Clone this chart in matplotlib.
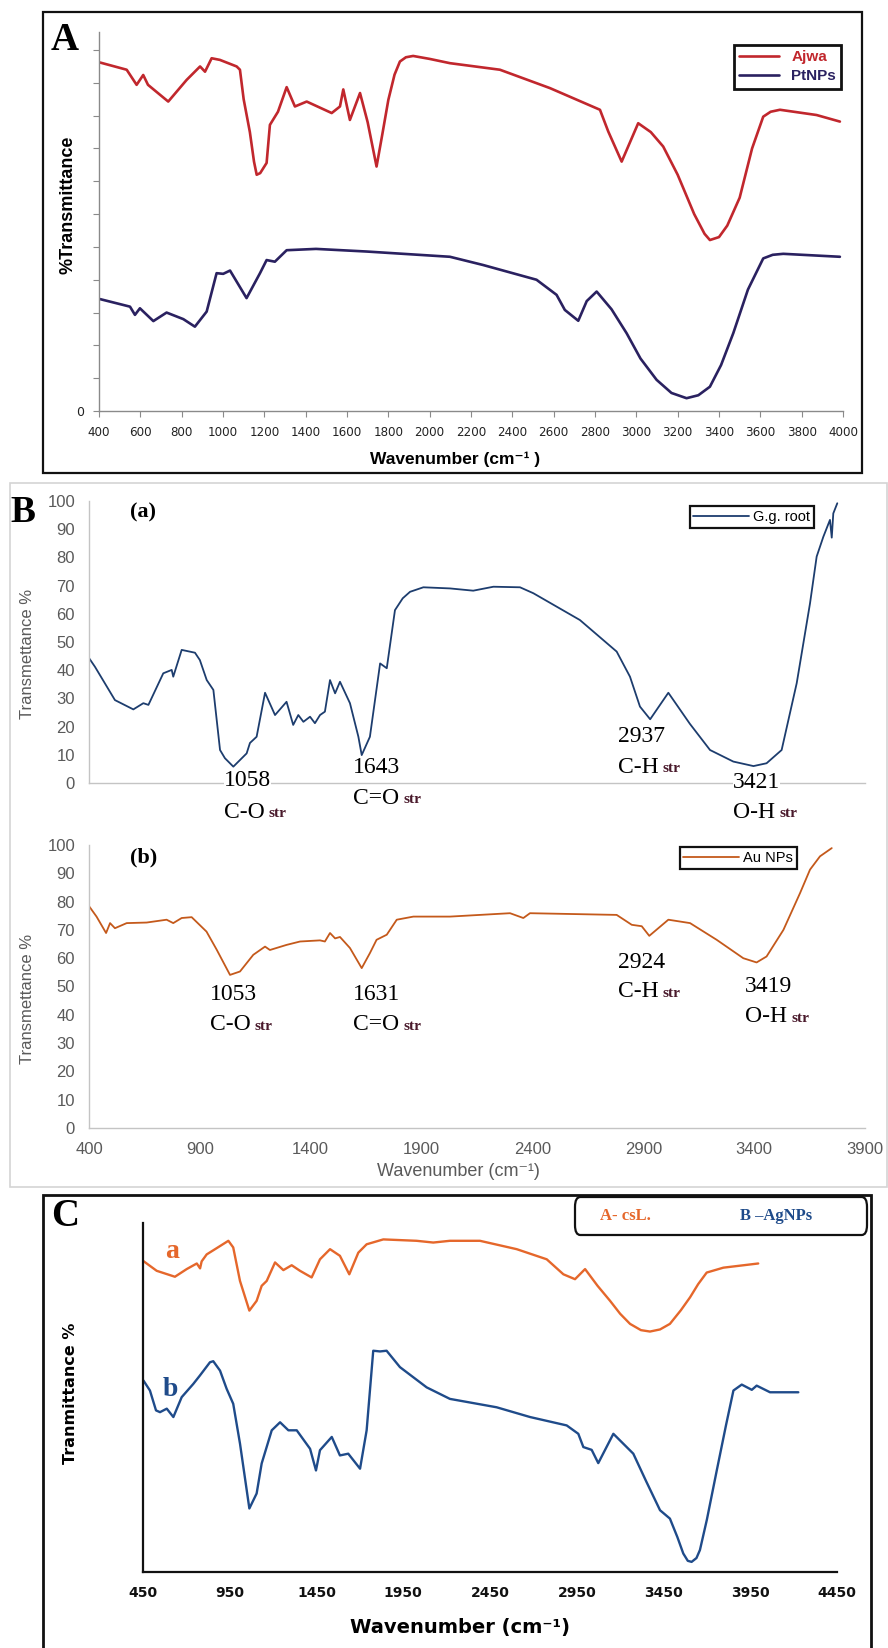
"""Three stacked FTIR spectra panels (A, B, C) redrawn from a composite figure."""

import matplotlib

matplotlib.use("Agg")
import matplotlib.pyplot as plt
from matplotlib.patches import FancyBboxPatch, Rectangle

W, H = 888, 1648
SANS = ["Liberation Sans", "DejaVu Sans"]
SERIF = ["Liberation Serif", "DejaVu Serif"]

# ---- panel A: Ajwa extract vs PtNPs ----
ajwa_wn = [405, 534, 582, 614, 637, 735, 824, 889, 913, 945, 985, 1066, 1082, 1100, 1130,
           1150, 1163, 1180, 1211, 1227, 1266, 1308, 1348, 1405, 1526, 1566, 1582, 1614,
           1663, 1700, 1743, 1770, 1800, 1830, 1856, 1885, 1920, 2000, 2098, 2340, 2582,
           2824, 2864, 2929, 3009, 3070, 3130, 3200, 3280, 3330, 3356, 3400, 3440, 3500,
           3560, 3614, 3650, 3695, 3872, 3985]
ajwa_t = [106.2, 104.0, 99.4, 102.4, 99.4, 94.3, 100.9, 105.0, 103.4, 107.5, 107.0, 105.0,
          104.0, 95.0, 85.0, 76.0, 72.0, 72.5, 75.6, 87.2, 91.2, 98.7, 92.8, 94.3, 90.8,
          92.8, 98.0, 88.7, 96.9, 88.0, 74.5, 84.0, 94.8, 102.5, 106.5, 107.8, 108.2,
          107.3, 106.0, 104.0, 98.4, 91.8, 85.2, 76.0, 87.7, 85.0, 80.6, 72.0, 60.0, 54.0,
          52.1, 53.0, 56.5, 65.0, 80.0, 89.7, 91.2, 91.8, 90.2, 88.2]
pt_wn = [405, 550, 574, 598, 663, 727, 808, 864, 921, 969, 1001, 1034, 1114, 1179, 1211,
         1251, 1308, 1450, 1695, 2098, 2258, 2517, 2614, 2654, 2719, 2760, 2808, 2880,
         2953, 3020, 3098, 3170, 3243, 3300, 3356, 3410, 3469, 3540, 3614, 3660, 3711,
         3985]
pt_t = [34.1, 31.8, 29.3, 31.3, 27.4, 30.0, 28.0, 25.7, 30.3, 42.0, 41.8, 42.8, 34.4, 42.0,
        46.0, 45.5, 49.0, 49.4, 48.6, 47.0, 44.5, 40.0, 35.4, 30.8, 27.5, 33.5, 36.4, 31.0,
        23.7, 16.0, 9.5, 5.5, 3.9, 4.8, 7.4, 14.0, 23.7, 37.0, 46.5, 47.6, 47.9, 47.0]
a_ticks = list(range(400, 4001, 200))

# ---- panel B: G. glabra root vs Au NPs ----
gg_wn = [401, 427, 517, 600, 645, 668, 735, 773, 780, 818, 878, 900, 931, 961, 991, 1013,
         1051, 1111, 1126, 1156, 1194, 1239, 1291, 1321, 1344, 1367, 1397, 1419, 1442,
         1464, 1487, 1510, 1532, 1577, 1615, 1630, 1667, 1713, 1743, 1780, 1815, 1848,
         1908, 2028, 2133, 2224, 2344, 2404, 2614, 2780, 2840, 2885, 2931, 3013, 3110,
         3201, 3306, 3397, 3456, 3524, 3592, 3652, 3682, 3712, 3742, 3750, 3757, 3775]
gg_t = [44.2, 41.2, 29.4, 26.1, 28.3, 27.7, 38.9, 40.1, 37.7, 47.2, 46.2, 43.6, 36.5, 33.0,
        11.7, 8.8, 5.8, 10.5, 14.2, 16.4, 32.0, 24.1, 28.8, 20.6, 24.1, 21.7, 23.5, 21.2,
        24.1, 25.3, 36.5, 31.8, 35.9, 28.3, 16.4, 9.9, 16.4, 42.4, 40.7, 61.3, 65.5, 67.8,
        69.4, 69.0, 68.2, 69.6, 69.4, 67.3, 57.8, 46.6, 37.7, 27.1, 22.6, 32.0, 21.0,
        11.7, 7.6, 6.0, 7.0, 11.7, 35.4, 63.7, 80.3, 87.3, 93.3, 87.0, 95.6, 99.2]
au_wn = [401, 434, 477, 495, 517, 570, 660, 750, 780, 818, 863, 930, 976, 1036, 1081, 1141,
         1194, 1216, 1291, 1352, 1442, 1464, 1487, 1510, 1532, 1577, 1630, 1667, 1697,
         1743, 1788, 1863, 2028, 2299, 2359, 2389, 2780, 2848, 2893, 2927, 3013, 3111,
         3231, 3351, 3411, 3456, 3532, 3607, 3652, 3697, 3750]
au_t = [78.3, 74.7, 68.9, 72.4, 70.6, 72.4, 72.6, 73.6, 72.4, 74.2, 74.5, 69.4, 63.0, 54.1,
        55.3, 61.2, 64.1, 62.9, 64.7, 65.9, 66.3, 65.9, 68.9, 67.0, 67.5, 63.6, 56.5, 61.8,
        66.5, 68.3, 73.6, 74.7, 74.7, 75.9, 74.2, 75.9, 75.3, 71.8, 71.3, 67.9, 73.6, 72.4,
        66.5, 60.0, 58.5, 60.6, 70.0, 83.0, 91.3, 96.0, 98.9]
b_ticks = list(range(400, 3901, 500))
b_yticks = list(range(0, 101, 10))

# peak labels for panel B: (number, bond, x px, number y px, bond y px)
peaks_gg = [("1058", "C-O", 224, 781, 812), ("1643", "C=O", 353, 767, 798),
            ("2937", "C-H", 618, 737, 767), ("3421", "O-H", 733, 782, 812)]
peaks_au = [("1053", "C-O", 210, 995, 1025), ("1631", "C=O", 353, 995, 1025),
            ("2924", "C-H", 618, 962, 992), ("3419", "O-H", 745, 987, 1017)]

# ---- panel C: csL extract vs AgNPs ----
csl_wn = [452, 529, 634, 702, 760, 779, 788, 817, 875, 942, 970, 1009, 1063, 1105, 1134,
          1163, 1211, 1259, 1307, 1355, 1422, 1470, 1528, 1585, 1639, 1691, 1739, 1835,
          2027, 2123, 2219, 2392, 2604, 2777, 2873, 2940, 2998, 3070, 3142, 3200, 3257,
          3320, 3372, 3430, 3487, 3550, 3603, 3650, 3699, 3795, 3996]
csl_t = [89.1, 86.3, 84.6, 86.8, 88.4, 87.0, 89.0, 91.0, 92.8, 94.9, 93.0, 83.4, 74.9, 77.7,
         82.0, 83.4, 88.7, 86.5, 87.9, 86.3, 84.4, 89.6, 92.5, 90.6, 85.3, 91.5, 93.9, 95.3,
         94.9, 94.4, 94.9, 94.9, 92.5, 89.6, 85.3, 83.9, 86.8, 82.0, 77.7, 74.0, 71.1,
         69.3, 68.9, 69.5, 71.1, 75.0, 78.7, 82.5, 85.8, 87.2, 88.4]
ag_wn = [452, 490, 525, 548, 587, 625, 673, 740, 778, 836, 855, 894, 932, 970, 1009, 1063,
         1105, 1134, 1192, 1240, 1288, 1336, 1413, 1447, 1470, 1538, 1585, 1633, 1701,
         1739, 1777, 1816, 1854, 1931, 2085, 2219, 2488, 2681, 2892, 2959, 2988, 3036,
         3074, 3161, 3276, 3350, 3430, 3487, 3530, 3564, 3590, 3612, 3640, 3660, 3700,
         3757, 3810, 3853, 3901, 3959, 3987, 4064, 4227]
ag_t = [54.9, 52.0, 46.3, 45.8, 46.8, 44.4, 50.1, 53.9, 56.3, 60.1, 60.4, 57.7, 52.5, 48.2,
        36.8, 18.2, 22.5, 31.1, 40.6, 42.9, 40.6, 40.6, 35.3, 29.1, 34.9, 38.7, 33.4, 33.9,
        29.6, 40.6, 63.4, 63.2, 63.4, 58.7, 52.9, 49.6, 47.2, 44.4, 42.0, 39.6, 35.8, 35.0,
        31.2, 39.6, 33.9, 26.0, 17.7, 15.3, 10.0, 5.3, 3.2, 2.9, 4.0, 6.3, 15.0, 29.1,
        42.0, 52.0, 53.7, 52.2, 53.4, 51.5, 51.5]
c_ticks = list(range(450, 4451, 500))


def rect(x0, y0, x1, y1):
    return [x0 / W, 1 - y1 / H, (x1 - x0) / W, (y1 - y0) / H]


def fx(px):
    return px / W


def fy(py):
    return 1 - py / H


def clean_axes(ax, color, lw):
    ax.patch.set_visible(False)
    for side in ("top", "right"):
        ax.spines[side].set_visible(False)
    for side in ("left", "bottom"):
        ax.spines[side].set_color(color)
        ax.spines[side].set_linewidth(lw)


LINE = {"solid_joinstyle": "round", "solid_capstyle": "round"}

fig = plt.figure(figsize=(W / 100, H / 100), dpi=100)
fig.patch.set_facecolor("white")

# ---------------- panel A ----------------
fig.patches.append(Rectangle((fx(43), fy(473)), (862 - 43) / W, (473 - 12) / H,
                             transform=fig.transFigure, fill=False, ec="#111111", lw=1.6))
axA = fig.add_axes(rect(99, 32, 843, 411))
clean_axes(axA, "#8a8a8a", 1.0)
axA.plot(ajwa_wn, ajwa_t, color="#c1272d", lw=1.9, label="Ajwa", **LINE)
axA.plot(pt_wn, pt_t, color="#2a2160", lw=1.9, label="PtNPs", **LINE)
axA.set_xlim(400, 4000)
axA.set_ylim(0, 115.5)
axA.set_xticks(a_ticks)
axA.set_xticklabels([str(v) for v in a_ticks], fontsize=8.6, color="#222222")
axA.set_yticks(range(0, 111, 10))
axA.set_yticklabels(["0"] + [""] * 11, fontsize=9, color="#222222")
axA.tick_params(direction="out", length=4, color="#8a8a8a", pad=7)
legA = axA.legend(loc="upper right", bbox_to_anchor=(fx(849), fy(37)),
                  bbox_transform=fig.transFigure, fancybox=False, edgecolor="#111111",
                  framealpha=1, handlelength=2.6, borderpad=0.35, labelspacing=0.35,
                  prop={"family": SANS, "weight": "bold", "size": 11},
                  labelcolor="linecolor")
legA.get_frame().set_linewidth(2)
fig.text(fx(65), fy(40), "A", family=SERIF, weight="bold", fontsize=28,
         ha="center", va="center")
fig.text(fx(68), fy(205), "%Transmittance", family=SANS, weight="bold",
         fontsize=13, rotation=90, ha="center", va="center")
fig.text(fx(455), fy(459), "Wavenumber (cm⁻¹ )", family=SANS,
         weight="bold", fontsize=12.5, ha="center", va="center")

# ---------------- panel B ----------------
fig.patches.append(Rectangle((fx(10), fy(1187)), (887 - 10) / W, (1187 - 483) / H,
                             transform=fig.transFigure, fill=False, ec="#d4d4d4", lw=1.2))
gray = "#5a5a5a"
for box, wn, tr, col, lab, tag, tag_y, leg_box, peaks in [
    ((89, 501, 865, 783), gg_wn, gg_t, "#1d3d6e", "G.g. root", "(a)", 512,
     (821, 499), peaks_gg),
    ((89, 845, 865, 1128), au_wn, au_t, "#c4591b", "Au NPs", "(b)", 857,
     (804, 840), peaks_au),
]:
    ax = fig.add_axes(rect(*box))
    clean_axes(ax, "#c4c4c4", 1.0)
    ax.plot(wn, tr, color=col, lw=1.3, label=lab, **LINE)
    ax.set_xlim(400, 3900)
    ax.set_ylim(0, 100)
    ax.set_yticks(b_yticks)
    ax.set_yticklabels([str(v) for v in b_yticks], family=SANS, fontsize=12, color=gray)
    ax.set_xticks(b_ticks)
    if lab == "Au NPs":
        ax.set_xticklabels([str(v) for v in b_ticks], family=SANS, fontsize=12,
                           color=gray)
    else:
        ax.set_xticklabels([])
    ax.tick_params(length=0, pad=10)
    leg = ax.legend(loc="upper right", bbox_to_anchor=(fx(leg_box[0]), fy(leg_box[1])),
                    bbox_transform=fig.transFigure, fancybox=False, edgecolor="#111111",
                    framealpha=1, handlelength=3.8, borderpad=0.25, handletextpad=0.3,
                    prop={"family": SANS, "size": 10.5})
    leg.get_frame().set_linewidth(1.6)
    fig.text(fx(130), fy(tag_y), tag, family=SERIF, weight="bold",
             fontsize=16, ha="left", va="center")
    fig.text(fx(28), fy((box[1] + box[3]) / 2 + 12), "Transmettance %",
             family=SANS, fontsize=12, color=gray, rotation=90,
             ha="center", va="center")
    for num, bond, x, y_num, y_bond in peaks:
        fig.text(fx(x), fy(y_num), num, family=SERIF, fontsize=17,
                 ha="left", va="center", bbox=dict(fc="white", ec="none", pad=0.2))
        t = fig.text(fx(x), fy(y_bond), bond, family=SERIF, fontsize=17,
                     ha="left", va="center")
        ax.annotate("str", xy=(1, 0.42), xycoords=t, xytext=(3, 0),
                    textcoords="offset points", family=SERIF,
                    weight="bold", fontsize=11, color="#4a1a2c", ha="left", va="center")
fig.text(fx(458), fy(1171), "Wavenumber (cm⁻¹)", family=SANS,
         fontsize=13, color=gray, ha="center", va="center")
fig.text(fx(23), fy(512), "B", family=SERIF, weight="bold", fontsize=27,
         ha="center", va="center")

# ---------------- panel C ----------------
fig.patches.append(Rectangle((fx(43), fy(1665)), (871 - 43) / W, (1665 - 1195) / H,
                             transform=fig.transFigure, fill=False, ec="#111111", lw=2))
axC = fig.add_axes(rect(143, 1223, 837, 1572))
clean_axes(axC, "#111111", 1.6)
axC.plot(csl_wn, csl_t, color="#e5672b", lw=1.7, **LINE)
axC.plot(ag_wn, ag_t, color="#1f4b8a", lw=1.7, **LINE)
axC.set_xlim(450, 4450)
axC.set_ylim(0, 100)
axC.set_yticks([])
axC.set_xticks(c_ticks)
axC.set_xticklabels([str(v) for v in c_ticks], weight="bold", fontsize=10,
                    color="#111111")
axC.tick_params(length=0, pad=10)
fig.patches.append(FancyBboxPatch((fx(575), fy(1235)), (867 - 575) / W, (1235 - 1197) / H,
                                  boxstyle="round,pad=0,rounding_size=0.006",
                                  transform=fig.transFigure, fc="white", ec="#111111",
                                  lw=1.6))
fig.text(fx(600), fy(1216), "A- csL.", family=SERIF, weight="bold",
         fontsize=12, color="#e5672b", ha="left", va="center")
fig.text(fx(740), fy(1216), "B –AgNPs", family=SERIF, weight="bold",
         fontsize=12, color="#1f4b8a", ha="left", va="center")
fig.text(fx(172), fy(1252), "a", family=SERIF, weight="bold", fontsize=20,
         color="#e5672b", ha="center", va="center")
fig.text(fx(170), fy(1390), "b", family=SERIF, weight="bold", fontsize=20,
         color="#1f4b8a", ha="center", va="center")
fig.text(fx(65), fy(1217), "C", family=SERIF, weight="bold", fontsize=28,
         ha="center", va="center")
fig.text(fx(70), fy(1393), "Tranmittance %", weight="bold", fontsize=11.5,
         rotation=90, ha="center", va="center")
fig.text(fx(460), fy(1628), "Wavenumber (cm⁻¹)", weight="bold", fontsize=14,
         ha="center", va="center")

fig.savefig("out.png", dpi=100)
